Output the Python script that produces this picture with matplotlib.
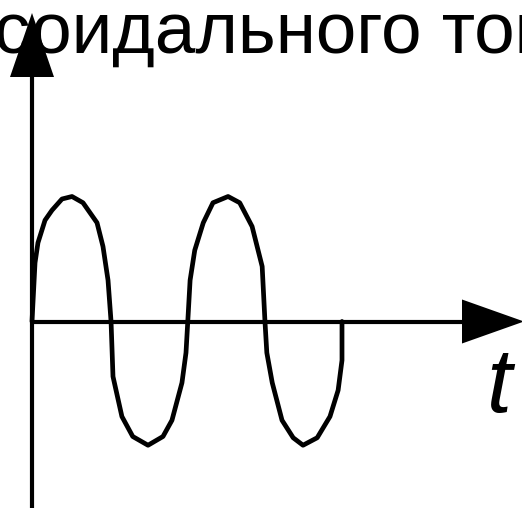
import matplotlib
matplotlib.use("Agg")
import matplotlib.pyplot as plt
from matplotlib.patches import Polygon
from matplotlib.font_manager import FontProperties

# Current waveform i(t): time in ms, current in relative units (amplitude 1)
t_ms = [0.0, 0.39, 0.77, 1.68, 2.58, 3.87, 5.16, 6.58, 8.39, 9.16, 9.81, 10.2,
        10.45, 11.6, 13.0, 14.97, 16.9, 18.06, 19.35, 19.87, 20.1,
        20.4, 21.0, 22.1, 23.35, 25.3, 26.8, 28.4, 29.7, 30.06,
        30.3, 31.0, 32.26, 33.7, 34.97, 36.8, 38.45, 39.5, 40.0, 40.0]
i_rel = [0.0, 0.47, 0.63, 0.81, 0.89, 0.98, 1.0, 0.95, 0.79, 0.60, 0.33, 0.0,
         -0.44, -0.76, -0.92, -0.99, -0.92, -0.79, -0.49, -0.25, 0.0,
         0.33, 0.57, 0.79, 0.95, 1.0, 0.95, 0.76, 0.44, 0.0,
         -0.25, -0.49, -0.79, -0.93, -0.99, -0.93, -0.76, -0.55, -0.31, 0.0]

title_text = "синусоидального тока"
axis_label = "t"

W, H, DPI = 522, 508, 100
X0, Y0 = 32.0, 321.5          # origin position in pixels
SX, SY = 7.75, 125.0          # pixels per ms, pixels per unit current


def px_to_data(px, py):
    return (px - X0) / SX, (Y0 - py) / SY


fig = plt.figure(figsize=(W / DPI, H / DPI), dpi=DPI)
ax = fig.add_axes([0, 0, 1, 1])
ax.set_xlim(px_to_data(0, 0)[0], px_to_data(W, 0)[0])
ax.set_ylim(px_to_data(0, H)[1], px_to_data(0, 0)[1])
ax.axis("off")

lw_axis = 3.0
lw_curve = 3.4
# vertical axis with arrowhead
_, y_bot = px_to_data(0, H + 5)
_, y_base = px_to_data(0, 77)
_, y_tip = px_to_data(0, 13)
hw_t = 22 / SX
ax.plot([0, 0], [y_bot, y_base], color="black", lw=lw_axis, solid_capstyle="butt")
ax.add_patch(Polygon([(-hw_t, y_base), (hw_t, y_base), (0, y_tip)],
                     closed=True, color="black", lw=0))

# horizontal axis with arrowhead
x_base, _ = px_to_data(462, 0)
x_tip, _ = px_to_data(524, 0)
hw_i = 22 / SY
ax.plot([0, x_base], [0, 0], color="black", lw=lw_axis, solid_capstyle="butt")
ax.add_patch(Polygon([(x_base, -hw_i), (x_base, hw_i), (x_tip, 0)],
                     closed=True, color="black", lw=0))

# waveform
ax.plot(t_ms, i_rel, color="black", lw=lw_curve, solid_joinstyle="round",
        solid_capstyle="round")

# axis label
lx, ly = px_to_data(487, 412)
ax.text(lx, ly, axis_label, fontsize=65, fontstyle="italic",
        family="Liberation Sans", ha="left", va="baseline")

# heading, partly running off the left edge
fp = FontProperties(family="Liberation Sans", size=52.5)
renderer = fig.canvas.get_renderer()
w_prefix, _, _ = renderer.get_text_width_height_descent("синус", fp, ismath=False)
tx, ty = px_to_data(30 - w_prefix, 53)
ax.text(tx, ty, title_text, fontproperties=fp, ha="left", va="baseline",
        zorder=0)

fig.savefig("out.png", dpi=DPI)
